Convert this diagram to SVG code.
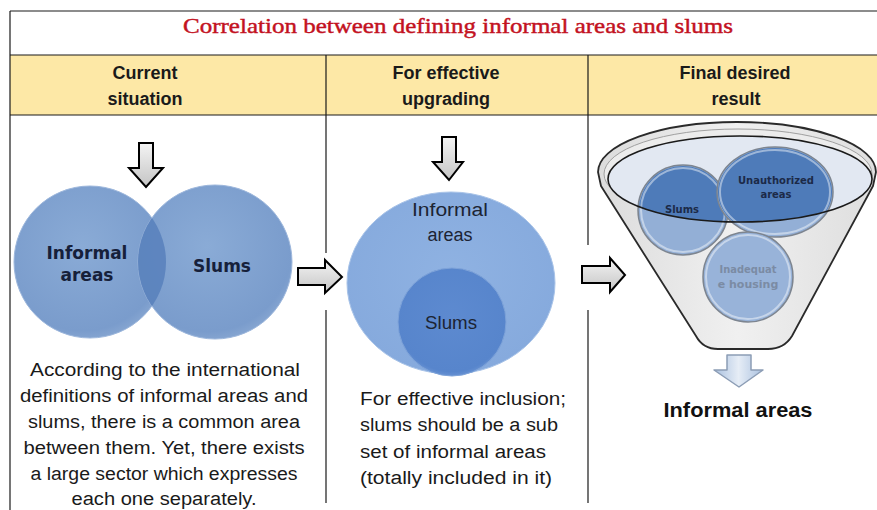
<svg xmlns="http://www.w3.org/2000/svg" width="877" height="510" viewBox="0 0 877 510">
<defs>
<style>
.grid{stroke:#1a1a1a;stroke-width:1.2;fill:none}
.hdr{font-family:"Liberation Sans",Arial,sans-serif;font-weight:bold;font-size:18px;fill:#1a1a1a;text-anchor:middle}
.body{font-family:"Liberation Sans",Arial,sans-serif;font-size:18px;fill:#1a1a1a}
.venn{font-family:"DejaVu Sans",Verdana,sans-serif;font-weight:bold;font-size:17px;fill:#16203a;text-anchor:middle}
.small{font-family:"DejaVu Sans",Verdana,sans-serif;font-weight:bold;font-size:10px;fill:#1c2a48;text-anchor:middle}
.faded{font-family:"DejaVu Sans",Verdana,sans-serif;font-weight:bold;font-size:11px;fill:#7b8ba4;text-anchor:middle}
.blk{fill:url(#gArrow);stroke:#000;stroke-width:2;stroke-linejoin:miter}
.ball{stroke:#7d8590;stroke-width:1.5}
.shine{fill:none;stroke:#ffffff;stroke-opacity:0.45;stroke-width:2}
</style>
<linearGradient id="gArrow" x1="0" y1="0" x2="0" y2="1">
<stop offset="0" stop-color="#f4f4f4"/><stop offset="1" stop-color="#c4c4c4"/>
</linearGradient>
<linearGradient id="gBlue" x1="0" y1="0" x2="1" y2="0">
<stop offset="0" stop-color="#a9c0df"/><stop offset="0.5" stop-color="#e6edf6"/><stop offset="1" stop-color="#a9c0df"/>
</linearGradient>
<radialGradient id="gVenn" cx="0.45" cy="0.4" r="0.65">
<stop offset="0" stop-color="#8aabd6"/><stop offset="0.85" stop-color="#7a9ccc"/><stop offset="1" stop-color="#8dabd4"/>
</radialGradient>
<radialGradient id="gBig" cx="0.5" cy="0.45" r="0.6">
<stop offset="0" stop-color="#8fb2e2"/><stop offset="0.9" stop-color="#86aadd"/><stop offset="1" stop-color="#9cbbe5"/>
</radialGradient>
<radialGradient id="gInner" cx="0.5" cy="0.45" r="0.6">
<stop offset="0" stop-color="#5d8ad0"/><stop offset="0.85" stop-color="#5785cc"/><stop offset="1" stop-color="#7aa0da"/>
</radialGradient>
<linearGradient id="gFunnel" x1="0" y1="0" x2="1" y2="0">
<stop offset="0" stop-color="#dcdcdc"/><stop offset="0.5" stop-color="#f0f0f0"/><stop offset="1" stop-color="#dedede"/>
</linearGradient>
<clipPath id="cLeft"><circle cx="90" cy="262" r="76"/></clipPath>
<clipPath id="cBowl"><ellipse cx="740" cy="179" rx="132" ry="43"/></clipPath>
</defs>

<rect width="877" height="510" fill="#ffffff"/>

<g id="table">
<rect x="10" y="55" width="870" height="60" fill="#fde8a6"/>
<line class="grid" x1="10" y1="11" x2="877" y2="11"/>
<line class="grid" x1="10" y1="11" x2="10" y2="510"/>
<line class="grid" x1="10" y1="55" x2="877" y2="55"/>
<line class="grid" x1="10" y1="115" x2="877" y2="115"/>
<line class="grid" x1="326" y1="55" x2="326" y2="253"/>
<line class="grid" x1="326" y1="310" x2="326" y2="503"/>
<line class="grid" x1="588" y1="55" x2="588" y2="245"/>
<line class="grid" x1="588" y1="310" x2="588" y2="503"/>
<text x="458" y="33" text-anchor="middle" font-family="Liberation Serif,'Times New Roman',serif" font-size="22" fill="#c3121f" stroke="#c3121f" stroke-width="0.45" textLength="550" lengthAdjust="spacingAndGlyphs">Correlation between defining informal areas and slums</text>
<text class="hdr" x="145" y="79">Current</text>
<text class="hdr" x="145" y="105">situation</text>
<text class="hdr" x="446" y="79">For effective</text>
<text class="hdr" x="446" y="105">upgrading</text>
<text class="hdr" x="735" y="79">Final desired</text>
<text class="hdr" x="736" y="105">result</text>
</g>

<g id="venn">
<circle cx="90" cy="262" r="76" fill="url(#gVenn)" stroke="#9db7dc" stroke-width="1"/>
<circle cx="215" cy="262" r="77" fill="url(#gVenn)" stroke="#9db7dc" stroke-width="1"/>
<circle cx="215" cy="262" r="77" fill="#5a82bd" clip-path="url(#cLeft)" opacity="0.9"/>
<text class="venn" x="87" y="259">Informal</text>
<text class="venn" x="87" y="281">areas</text>
<text class="venn" x="222" y="272">Slums</text>
</g>

<g id="current-text" class="body" text-anchor="middle">
<text x="165" y="376" textLength="270" lengthAdjust="spacingAndGlyphs">According to the international</text>
<text x="164" y="402" textLength="288" lengthAdjust="spacingAndGlyphs">definitions of informal areas and</text>
<text x="164" y="428" textLength="272" lengthAdjust="spacingAndGlyphs">slums, there is a common area</text>
<text x="164" y="454" textLength="281" lengthAdjust="spacingAndGlyphs">between them. Yet, there exists</text>
<text x="164" y="480" textLength="267" lengthAdjust="spacingAndGlyphs">a large sector which expresses</text>
<text x="164" y="505" textLength="185" lengthAdjust="spacingAndGlyphs">each one separately.</text>
</g>

<g id="subset">
<ellipse cx="451" cy="283" rx="104" ry="91" fill="url(#gBig)" stroke="#a8c3e8" stroke-width="1"/>
<circle cx="452" cy="322" r="54" fill="url(#gInner)" stroke="#7ea3d9" stroke-width="1"/>
<text class="body" x="450" y="216" text-anchor="middle" style="fill:#1c2433" textLength="76" lengthAdjust="spacingAndGlyphs">Informal</text>
<text class="body" x="450" y="241" text-anchor="middle" style="fill:#1c2433">areas</text>
<text class="body" x="451" y="329" text-anchor="middle" style="fill:#1c2433" textLength="52" lengthAdjust="spacingAndGlyphs">Slums</text>
</g>

<g id="upgrading-text" class="body">
<text x="360" y="405" textLength="206" lengthAdjust="spacingAndGlyphs">For effective inclusion;</text>
<text x="360" y="431" textLength="198" lengthAdjust="spacingAndGlyphs">slums should be a sub</text>
<text x="360" y="458" textLength="186" lengthAdjust="spacingAndGlyphs">set of informal areas</text>
<text x="360" y="484" textLength="192" lengthAdjust="spacingAndGlyphs">(totally included in it)</text>
</g>

<g id="funnel">
<path d="M598,172 A139,50 0 0 1 876,172 L873,186 L792,336 Q784,349 768,349 L718,349 Q703,349 696,336 L601,186 Z" fill="url(#gFunnel)" stroke="#2a2a2a" stroke-width="1.8" stroke-linejoin="round"/>
<ellipse cx="738" cy="174" rx="134" ry="45" fill="#ececec" stroke="#a0a0a0" stroke-width="1"/>
<ellipse cx="740" cy="179" rx="132" ry="43" fill="#e2e8f2"/>
</g>

<g id="slums-node">
<circle class="ball" cx="683" cy="210" r="45" fill="#93afd6"/>
<circle cx="683" cy="210" r="44" fill="#4e7bb9" clip-path="url(#cBowl)"/>
<circle class="shine" cx="683" cy="210" r="42"/>
<text class="small" x="682" y="213">Slums</text>
</g>

<g id="unauthorized-node">
<ellipse class="ball" cx="775" cy="192" rx="58" ry="45" fill="#93afd6"/>
<ellipse cx="775" cy="192" rx="57" ry="44" fill="#4e7bb9" clip-path="url(#cBowl)"/>
<ellipse class="shine" cx="775" cy="192" rx="55" ry="42"/>
<text class="small" x="776" y="184">Unauthorized</text>
<text class="small" x="776" y="198">areas</text>
</g>

<g id="inadequate-node">
<circle class="ball" cx="748" cy="277" r="45" fill="#98b3d9"/>
<circle class="shine" cx="748" cy="277" r="42"/>
<text class="faded" x="748" y="273" textLength="57" lengthAdjust="spacingAndGlyphs">Inadequat</text>
<text class="faded" x="748" y="288">e housing</text>
</g>

<ellipse id="bowl-rim" cx="740" cy="179" rx="132" ry="43" fill="none" stroke="#1a1a1a" stroke-width="1.6"/>

<g id="result">
<text x="738" y="417" text-anchor="middle" font-family="Liberation Sans,Arial,sans-serif" font-weight="bold" font-size="20" fill="#111" textLength="149" lengthAdjust="spacingAndGlyphs">Informal areas</text>
</g>

<g id="connectors">
<path class="blk" d="M139,143 L153,143 L153,168 L163,168 L146,187 L129,168 L139,168 Z"/>
<path class="blk" d="M442,137 L456,137 L456,162 L463,162 L449,180 L433,162 L442,162 Z"/>
<path class="blk" d="M298,268 L325,268 L325,260 L342,277 L325,293 L325,285 L298,285 Z"/>
<path class="blk" d="M582,266 L610,266 L610,258 L625,275 L610,292 L610,283 L582,283 Z"/>
<path d="M727,355 L751,355 L751,370 L763,370 L739,387 L714,370 L727,370 Z" fill="url(#gBlue)" stroke="#8c9db5" stroke-width="1.5" stroke-linejoin="round"/>
</g>
</svg>
